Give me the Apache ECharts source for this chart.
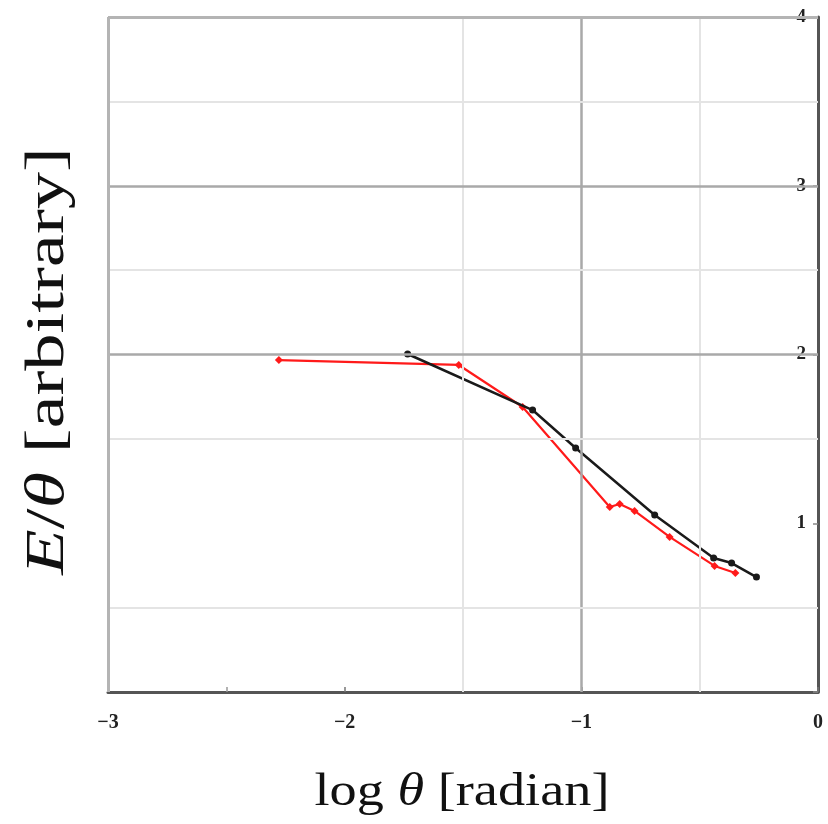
<!DOCTYPE html>
<html><head><meta charset="utf-8">
<script src="https://cdn.jsdelivr.net/npm/echarts@6/dist/echarts.min.js"></script>
<style>html,body{margin:0;padding:0;background:#fff}#c{width:828px;height:824px}</style>
</head><body><div id="c"></div>
<script>
const redX = [-2.278, -1.518, -1.248, -0.880, -0.838, -0.775, -0.627, -0.437, -0.349];
const redY = [1.967, 1.938, 1.689, 1.096, 1.114, 1.073, 0.919, 0.747, 0.705];
const blackX = [-1.734, -1.206, -1.024, -0.690, -0.441, -0.365, -0.260];
const blackY = [2.003, 1.671, 1.446, 1.049, 0.794, 0.764, 0.681];
const xTicks = [-3, -2, -1, 0];
const yTicks = [0, 1, 2, 3, 4];
const gridXLight = [-1.5, -0.5];
const gridXDark = [-1];
const gridYLight = [0.5, 1.5, 2.5, 3.5];
const gridYDark = [2, 3];
const borderX = [-3];
const borderY = [4];

const zip = (a, b) => a.map((v, i) => [v, b[i]]);
const lightC = '#e4e4e4', darkC = '#a9a9a9', borderC = '#b4b4b4';
const ml = [];
gridXLight.forEach(v => ml.push({xAxis: v, lineStyle: {color: lightC, width: 2, type: 'solid'}}));
gridXDark.forEach(v => ml.push({xAxis: v, lineStyle: {color: darkC, width: 2.5, type: 'solid'}}));
gridYLight.forEach(v => ml.push({yAxis: v, lineStyle: {color: lightC, width: 2, type: 'solid'}}));
gridYDark.forEach(v => ml.push({yAxis: v, lineStyle: {color: darkC, width: 2.5, type: 'solid'}}));
borderX.forEach(v => ml.push({xAxis: v, lineStyle: {color: borderC, width: 3, type: 'solid'}}));
borderY.forEach(v => ml.push({yAxis: v, lineStyle: {color: borderC, width: 3, type: 'solid'}}));

const chart = echarts.init(document.getElementById('c'));
chart.setOption({
  animation: false,
  grid: {left: 108, right: 10, top: 17, bottom: 132},
  xAxis: {
    type: 'value', min: xTicks[0], max: xTicks[xTicks.length - 1], interval: 1,
    axisLine: {show: true, onZero: false, lineStyle: {color: '#555', width: 3}},
    axisTick: {show: true, inside: true, length: 5, lineStyle: {color: '#777', width: 1.5}},
    minorTick: {show: true, splitNumber: 2, length: 5, lineStyle: {color: '#999', width: 1.5}},
    splitLine: {show: false},
    axisLabel: {color: '#222', fontFamily: 'Liberation Serif', fontSize: 20, fontWeight: 'bold', margin: 21,
      formatter: v => (v < 0 ? '\u2212' : '') + Math.abs(v)}
  },
  yAxis: {
    type: 'value', position: 'right', min: yTicks[0], max: yTicks[yTicks.length - 1], interval: 1,
    axisLine: {show: true, onZero: false, lineStyle: {color: '#555', width: 3}},
    axisTick: {show: true, inside: true, length: 5, lineStyle: {color: '#888', width: 1.5}},
    minorTick: {show: false},
    splitLine: {show: false},
    axisLabel: {inside: true, color: '#222', fontFamily: 'Liberation Serif', fontSize: 19, fontWeight: 'bold', margin: 12,
      formatter: v => v === 0 ? '' : String(v)}
  },
  series: [
    {type: 'line', data: [], silent: true, markLine: {silent: true, symbol: 'none', label: {show: false}, animation: false, data: ml}},
    {type: 'line', data: zip(redX, redY), symbol: 'diamond', symbolSize: 8, showSymbol: true,
      lineStyle: {color: '#ff1a1a', width: 2.2}, itemStyle: {color: '#ff1a1a'}, z: 3},
    {type: 'line', data: zip(blackX, blackY), symbol: 'circle', symbolSize: 7, showSymbol: true,
      lineStyle: {color: '#1a1a1a', width: 2.5}, itemStyle: {color: '#1a1a1a'}, z: 4}
  ],
  graphic: [
    {type: 'text', x: 462, y: 793, scaleX: 1.18,
      style: {text: 'log {i|θ} [radian]', font: '46px "Liberation Serif"', fill: '#111', align: 'center', verticalAlign: 'middle',
        rich: {i: {fontStyle: 'italic', fontFamily: 'Liberation Serif', fontSize: 46, fill: '#111'}}}},
    {type: 'text', x: 49, y: 361, rotation: Math.PI / 2, scaleX: 1.38,
      style: {text: '{i|E}/{i|θ} [arbitrary]', font: '54px "Liberation Serif"', fill: '#111', align: 'center', verticalAlign: 'middle',
        rich: {i: {fontStyle: 'italic', fontFamily: 'Liberation Serif', fontSize: 54, fill: '#111'}}}}
  ]
});
</script></body></html>
